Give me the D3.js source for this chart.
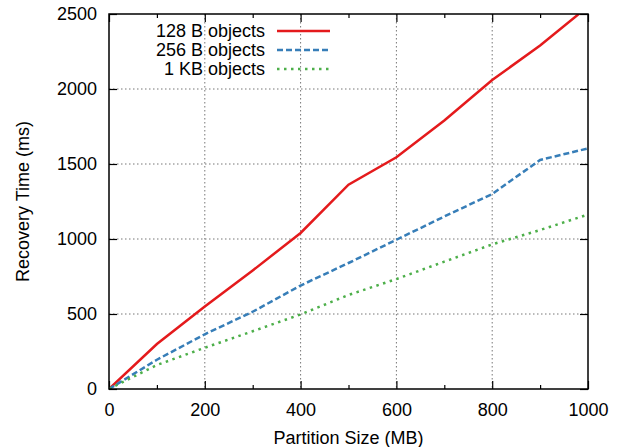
<!DOCTYPE html>
<html>
<head>
<meta charset="utf-8">
<script src="https://cdn.jsdelivr.net/npm/d3@7"></script>
<style>
  body { margin: 0; background: #fff; }
  text { font-family: "Liberation Sans", Helvetica, Arial, sans-serif; }
</style>
</head>
<body>
<div id="chart"></div>
<script>
// data
const partitionSizes = [0, 100, 200, 300, 400, 500, 600, 700, 800, 900, 1000];
const time128 = [0, 300, 550, 790, 1040, 1362, 1545, 1790, 2060, 2290, 2550];
const time256 = [0, 195, 365, 515, 690, 840, 995, 1150, 1300, 1527, 1604];
const time1k = [0, 160, 275, 385, 497, 627, 733, 849, 964, 1060, 1163];
const seriesNames = ["128 B objects", "256 B objects", "1 KB objects"];
const xTicks = [0, 200, 400, 600, 800, 1000];
const xMinor = [100, 300, 500, 700, 900];
const yTicks = [0, 500, 1000, 1500, 2000, 2500];

const margin = { top: 14, right: 38, bottom: 58, left: 109 };
const bredde = 626 - margin.left - margin.right;
const hoejde = 447 - margin.top - margin.bottom;
const fontSize = "18px";

const svg = d3.select("#chart").append("svg")
  .attr("width", 626).attr("height", 447)
  .append("g")
  .attr("transform", `translate(${margin.left},${margin.top})`);

const x = d3.scaleLinear().domain([0, 1000]).range([0, bredde]);
const y = d3.scaleLinear().domain([0, 2500]).range([hoejde, 0]);

// grid
svg.selectAll(".gx").data(xTicks.slice(1, -1)).enter().append("line")
  .attr("x1", d => x(d)).attr("x2", d => x(d)).attr("y1", 0).attr("y2", hoejde)
  .attr("stroke", "#777").attr("stroke-width", 1).attr("stroke-dasharray", "1.5,2.5");
svg.selectAll(".gy").data(yTicks.slice(1, -1)).enter().append("line")
  .attr("y1", d => y(d)).attr("y2", d => y(d)).attr("x1", 0).attr("x2", bredde)
  .attr("stroke", "#777").attr("stroke-width", 1).attr("stroke-dasharray", "1.5,2.5");

// axes with inward ticks
const tickStyle = g => {
  g.select(".domain").remove();
  g.selectAll("line").attr("stroke", "#000").attr("stroke-width", 1.2);
  g.selectAll("text").attr("font-size", fontSize).attr("fill", "#000")
    .style("font-family", '"Liberation Sans", Helvetica, Arial, sans-serif');
};
const fmt = d3.format("d");
svg.append("g").attr("transform", `translate(0,${hoejde})`)
  .call(d3.axisBottom(x).tickValues(xTicks).tickFormat(fmt).tickSizeInner(-8).tickSizeOuter(0).tickPadding(14))
  .call(tickStyle);
svg.append("g").attr("transform", `translate(0,${hoejde})`)
  .call(d3.axisBottom(x).tickValues(xMinor).tickSizeInner(-4).tickSizeOuter(0).tickFormat(""))
  .call(tickStyle);
svg.append("g")
  .call(d3.axisTop(x).tickValues(xTicks).tickSizeInner(-8).tickSizeOuter(0).tickFormat(""))
  .call(tickStyle);
svg.append("g")
  .call(d3.axisTop(x).tickValues(xMinor).tickSizeInner(-4).tickSizeOuter(0).tickFormat(""))
  .call(tickStyle);
svg.append("g")
  .call(d3.axisLeft(y).tickValues(yTicks).tickFormat(fmt).tickSizeInner(-8).tickSizeOuter(0).tickPadding(12))
  .call(tickStyle);
svg.append("g").attr("transform", `translate(${bredde},0)`)
  .call(d3.axisRight(y).tickValues(yTicks).tickSizeInner(-8).tickSizeOuter(0).tickFormat(""))
  .call(tickStyle);

// axis titles
svg.append("text")
  .attr("x", bredde / 2).attr("y", hoejde + 55)
  .attr("text-anchor", "middle").attr("font-size", fontSize)
  .text("Partition Size (MB)");
svg.append("text")
  .attr("transform", "rotate(-90)")
  .attr("x", -hoejde / 2).attr("y", -80)
  .attr("text-anchor", "middle").attr("font-size", fontSize)
  .text("Recovery Time (ms)");

// lines
svg.append("clipPath").attr("id", "clip")
  .append("rect").attr("width", bredde).attr("height", hoejde);

const series = [
  { name: seriesNames[0], values: time128, color: "#e41a1c", dash: null },
  { name: seriesNames[1], values: time256, color: "#377eb8", dash: "6,3" },
  { name: seriesNames[2], values: time1k, color: "#4daf4a", dash: "2.5,4.5" }
];

const line = d3.line()
  .x((d, i) => x(partitionSizes[i]))
  .y(d => y(d));

series.forEach(s => {
  svg.append("path")
    .datum(s.values)
    .attr("clip-path", "url(#clip)")
    .attr("fill", "none")
    .attr("stroke", s.color)
    .attr("stroke-width", 2.5)
    .attr("stroke-dasharray", s.dash)
    .attr("d", line);
});

// legend
const legend = svg.append("g");
series.forEach((s, i) => {
  const ly = 17 + i * 19;
  legend.append("text")
    .attr("x", 156).attr("y", ly).attr("dy", "0.35em")
    .attr("text-anchor", "end").attr("font-size", fontSize)
    .text(s.name);
  legend.append("line")
    .attr("x1", 168).attr("x2", 221).attr("y1", ly).attr("y2", ly)
    .attr("stroke", s.color).attr("stroke-width", 2.5)
    .attr("stroke-dasharray", s.dash);
});

// frame
svg.append("rect")
  .attr("width", bredde).attr("height", hoejde)
  .attr("fill", "none").attr("stroke", "#000").attr("stroke-width", 1.5);
</script>
</body>
</html>
